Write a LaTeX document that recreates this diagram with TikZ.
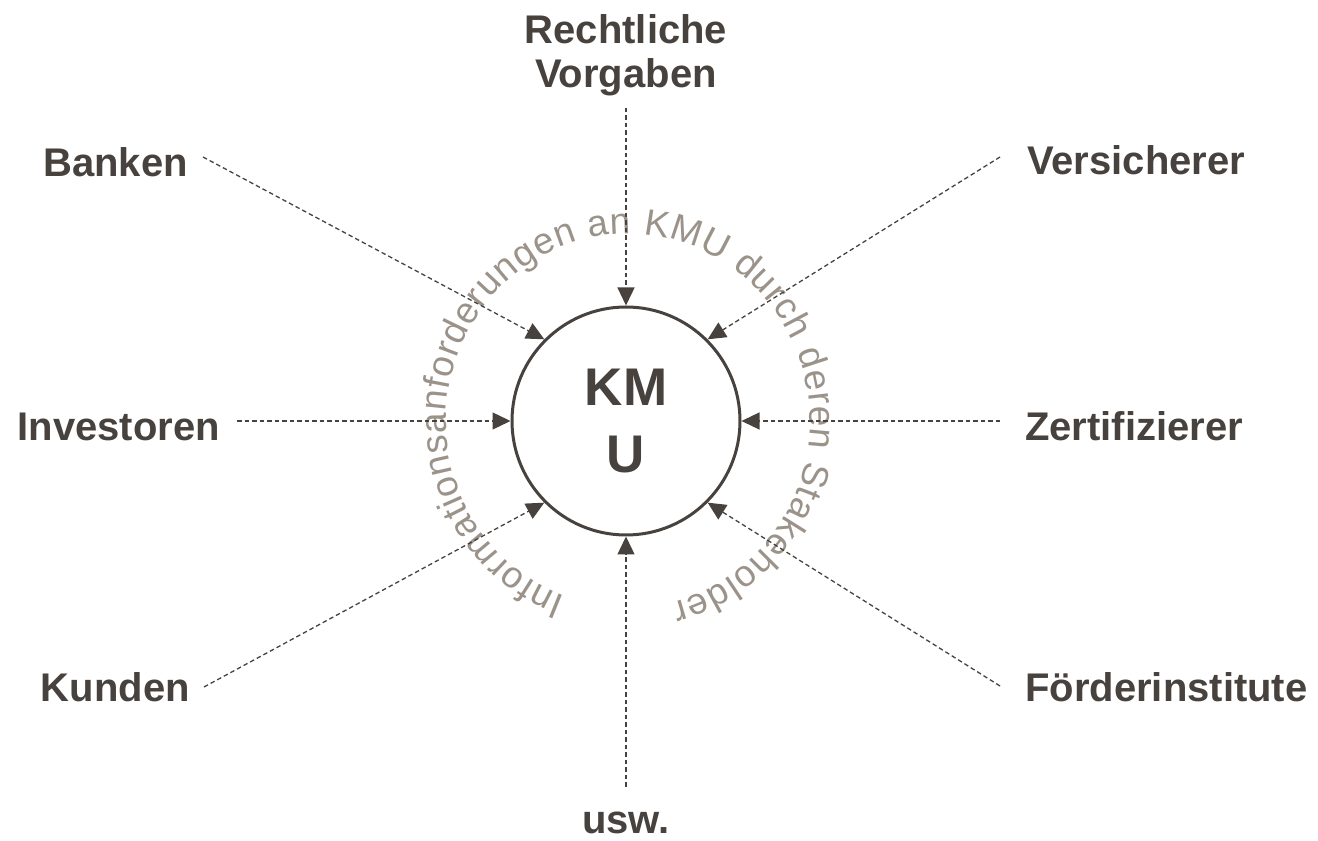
\documentclass[tikz,border=0pt]{standalone}
\usepackage{fontspec}
\setmainfont{Liberation Sans}
\usetikzlibrary{arrows.meta,decorations.text}
\definecolor{dark}{HTML}{47423D}
\definecolor{tgray}{HTML}{9B938A}
\begin{document}
\begin{tikzpicture}[x=1pt,y=1pt,
  lbl/.style={font=\fontsize{40}{44}\selectfont\bfseries, text=dark, inner sep=0pt},
  conn/.style={draw=dark, line width=1.3pt, dash pattern=on 4.5pt off 3pt,
    -{Triangle[length=18pt,width=17pt]}},
  hub/.style={circle, draw=dark, line width=3pt, minimum size=228pt, inner sep=0pt,
    align=center, text=dark, font=\fontsize{53}{67}\selectfont\bfseries}]
\useasboundingbox (0,0) rectangle (1318,841);

% centre
\node[hub] (kmu) at (626,420) {KM\\U};

% curved caption
\path[decorate, decoration={text along path,
    text={|\fontsize{37}{44}\selectfont\color{tgray}|Informationsanforderungen an KMU durch deren Stakeholder},
    text align={fit to path}}]
  (628,420) ++(250:182 and 187) arc[start angle=250, end angle=-76, x radius=182, y radius=187];

% stakeholder labels
\node[lbl, anchor=north, align=center] (recht) at (626,827) {Rechtliche\\Vorgaben};
\node[lbl, anchor=base east] (banken) at (188,664) {Banken};
\node[lbl, anchor=base west] (versich) at (1027,666) {Versicherer};
\node[lbl, anchor=base east] (invest) at (220,400) {Investoren};
\node[lbl, anchor=base west] (zert) at (1025,400) {Zertifizierer};
\node[lbl, anchor=base east] (kunden) at (190,139) {Kunden};
\node[lbl, anchor=base west] (foerder) at (1025,139) {Förderinstitute};
\node[lbl, anchor=base] (usw) at (626,7) {usw.};

% line start points
\coordinate (sTop) at (626,733);
\coordinate (sBot) at (626,54);
\coordinate (sL) at (237,420);
\coordinate (sR) at (1000,420);
\coordinate (sUL) at (203,684);
\coordinate (sUR) at (1000,684);
\coordinate (sLL) at (204,154);
\coordinate (sLR) at (1000,155);

% connectors
\draw[conn] (sTop) -- (kmu.north);
\draw[conn] (sBot) -- (kmu.south);
\draw[conn] (sL) -- (kmu.west);
\draw[conn] (sR) -- (kmu.east);
\draw[conn] (sUL) -- (kmu.135);
\draw[conn] (sUR) -- (kmu.45);
\draw[conn] (sLL) -- (kmu.225);
\draw[conn] (sLR) -- (kmu.-45);
\end{tikzpicture}
\end{document}
